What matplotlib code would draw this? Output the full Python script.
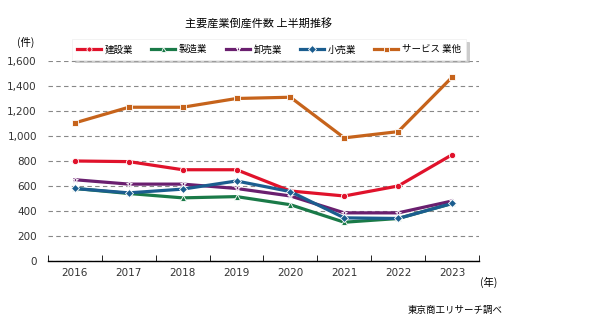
import numpy as np
import matplotlib.pyplot as plt

plt.rcParams['font.family'] = ['Noto Sans CJK JP', 'DejaVu Sans']

years = ['2016', '2017', '2018', '2019', '2020', '2021', '2022', '2023']
construction = [800, 795, 730, 730, 560, 520, 600, 850]
manufacturing = [580, 540, 505, 515, 450, 310, 340, 460]
wholesale = [650, 615, 615, 580, 520, 385, 385, 480]
retail = [580, 545, 575, 640, 555, 345, 340, 460]
services = [1105, 1230, 1230, 1300, 1310, 985, 1035, 1470]

names = ['建設業', '製造業', '卸売業', '小売業', 'サービス 業他']
colors = ['#E0122B', '#1A7A48', '#6A1F6F', '#1B5D8F', '#C6631B']
markers = ['o', '^', '*', 'D', 's']
series = [construction, manufacturing, wholesale, retail, services]

fig = plt.figure(figsize=(6.06, 3.32), dpi=100)
ax = fig.add_axes([0.0792, 0.2139, 0.7112, 0.6024])

x = np.arange(len(years))
for vals, name, c, m in zip(series, names, colors, markers):
    ax.plot(x, vals, color=c, lw=2.3, marker=m, ms=4.5, mfc=c, mec='white',
            mew=0.6, label=name)

ax.set_xlim(-0.5, 7.5)
ax.set_ylim(0, 1600)
ax.set_yticks(range(0, 1601, 200))
ax.set_yticklabels([f'{v:,}' for v in range(0, 1601, 200)], fontsize=7.5,
                   color='#333333', family='DejaVu Sans')
ax.set_xticks(x)
ax.set_xticklabels(years, fontsize=7.5, color='#333333', family='DejaVu Sans')
ax.set_xticks(np.arange(-0.5, 8, 1), minor=True)
ax.tick_params(axis='x', which='major', length=0, pad=5)
ax.tick_params(axis='x', which='minor', length=4, direction='in', color='black')
ax.tick_params(axis='y', length=0, pad=8)
ax.grid(axis='y', ls=(0, (4, 3)), color='#888888', lw=0.8)
ax.set_axisbelow(True)
for s in ['top', 'right', 'left']:
    ax.spines[s].set_visible(False)
ax.spines['bottom'].set_color('black')
ax.spines['bottom'].set_linewidth(1.0)

fig.text(0.426, 0.93, '主要産業倒産件数 上半期推移', ha='center', va='center', fontsize=8)
fig.text(0.042, 0.873, '(件)', ha='center', va='center', fontsize=7.5)
fig.text(0.807, 0.15, '(年)', ha='center', va='center', fontsize=7.5)
fig.text(0.83, 0.066, '東京商工リサーチ調べ', ha='right', va='center', fontsize=6.8)

leg = fig.legend(loc='center', bbox_to_anchor=(0.444, 0.851), ncol=5, fontsize=6.8,
                 frameon=True, fancybox=False,
                 shadow={'ox': 2, 'oy': -2, 'color': '#aaaaaa', 'alpha': 0.6},
                 handlelength=2.55, columnspacing=1.9, handletextpad=0.4,
                 borderpad=0.55, markerscale=0.8)
leg.get_frame().set_edgecolor('#eeeeee')
leg.get_frame().set_linewidth(0.5)

fig.savefig('out.png', dpi=100)
